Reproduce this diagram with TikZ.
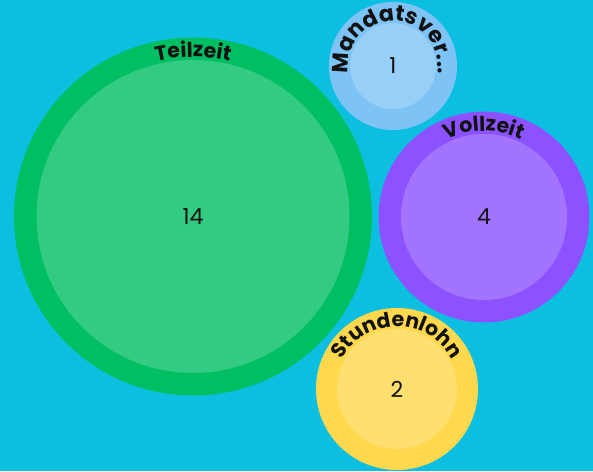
\documentclass[tikz,border=0pt]{standalone}
\usepackage{fontspec}
\usetikzlibrary{decorations.text}
\newfontfamily\popfont{Poppins}
\newcommand{\labfont}{\popfont\bfseries\fontsize{20.5}{24}\selectfont}
\newcommand{\biglabfont}{\popfont\bfseries\fontsize{22}{26}\selectfont}
\newcommand{\numfont}{\popfont\fontsize{22}{26}\selectfont}
\definecolor{bgcyan}{HTML}{0CBFE0}
\definecolor{cgreen}{HTML}{00BF63}
\definecolor{cblue}{HTML}{7EC3F5}
\definecolor{cpurple}{HTML}{8C52FF}
\definecolor{cyellow}{HTML}{FFD84D}
\definecolor{ink}{HTML}{111111}
\tikzset{
  outerc/.style={fill=#1, draw=none},
  innerc/.style={fill=white, fill opacity=0.2, draw=none},
  numlabel/.style={font=\numfont, text=ink, inner sep=0pt},
  arclabel/.style={decorate, decoration={text along path, text align=center, text color=ink, text={|\labfont|#1}}},
  bigarclabel/.style={decorate, decoration={text along path, text align=center, text color=ink, text={|\biglabfont|#1}}}
}
\begin{document}
\begin{tikzpicture}[x=1pt,y=1pt]
\useasboundingbox (0,0) rectangle (593,471);
\fill[bgcyan] (0,0) rectangle (593,471);
% Teilzeit
\fill[outerc=cgreen] (193,254.5) circle[radius=179];
\fill[innerc] (193,254.5) circle[radius=156.5];
\node[numlabel] (n14) at (193,254.5) {14};
\path[arclabel=Teilzeit] (193,254.5) ++(200:159.5) arc[start angle=200, end angle=-20, radius=159.5];
% Mandatsver
\fill[outerc=cblue] (393,405) circle[radius=64];
\fill[innerc] (393,405) circle[radius=43];
\node[numlabel] (n1) at (393,405) {1};
\path[bigarclabel=Mandatsver...] (393,405) ++(260:45) arc[start angle=260, end angle=-80, radius=45];
% Vollzeit
\fill[outerc=cpurple] (484,254) circle[radius=105.5];
\fill[innerc] (484,254) circle[radius=83];
\node[numlabel] (n4) at (484,254) {4};
\path[arclabel=Vollzeit] (484,254) ++(220:86) arc[start angle=220, end angle=-40, radius=86];
% Stundenlohn
\fill[outerc=cyellow] (397,82) circle[radius=81];
\fill[innerc] (397,82) circle[radius=60];
\node[numlabel] (n2) at (397,82) {2};
\path[arclabel=Stundenlohn] (397,82) ++(230:62.5) arc[start angle=230, end angle=-50, radius=62.5];
\end{tikzpicture}
\end{document}
